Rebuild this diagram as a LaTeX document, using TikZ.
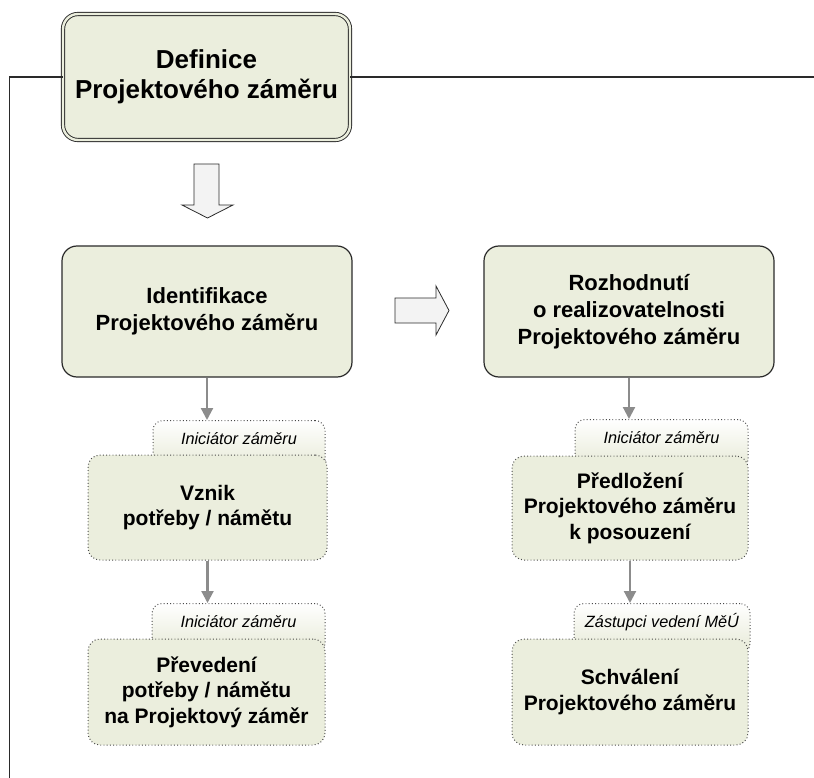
\documentclass[tikz,border=0pt]{standalone}
\usepackage{fontspec}
\setmainfont{Liberation Sans}
\usetikzlibrary{arrows.meta}
\definecolor{boxgreen}{HTML}{EBEEDD}
\definecolor{labgreen}{HTML}{E6E9D5}
\definecolor{linedark}{HTML}{2A2A2A}
\definecolor{dotcol}{HTML}{4A4A4A}
\definecolor{arrgray}{HTML}{8C8C8C}
\definecolor{hollowfill}{HTML}{F3F3F3}
\tikzset{
  x=1pt, y=-1pt,
  topbox/.style={draw=linedark, line width=0.9pt, double=boxgreen, double distance=2.4pt,
    fill=boxgreen, rounded corners=15pt, inner sep=0pt, align=center,
    font=\bfseries\fontsize{26}{30.5}\selectfont},
  mainbox/.style={draw=linedark, line width=1.2pt, fill=boxgreen, rounded corners=15pt,
    inner sep=0pt, align=center, minimum width=290pt, minimum height=131pt,
    font=\bfseries\fontsize{22}{26.8}\selectfont},
  dotbox/.style={draw=dotcol, line width=1pt, dash pattern=on 0.9pt off 2.3pt,
    fill=boxgreen, rounded corners=12pt, inner sep=0pt, align=center,
    font=\bfseries\fontsize{21}{25.5}\selectfont},
  labbox/.style={draw=dotcol, line width=1pt, dash pattern=on 0.9pt off 2.3pt,
    top color=white, bottom color=labgreen, rounded corners=10pt, inner xsep=0pt,
    inner ysep=0pt, text height=24pt, text depth=26pt, anchor=north,
    font=\itshape\fontsize{16.3}{19}\selectfont},
  hollow/.style={draw=linedark, line width=0.8pt, fill=hollowfill, line join=miter},
  grayarrow/.style={draw=arrgray, line width=2.2pt, -{Triangle[width=12pt,length=12pt]}},
  frameline/.style={draw=linedark, line width=1.3pt}
}
\begin{document}
\begin{tikzpicture}
\useasboundingbox (0,0) rectangle (814,778);
% top box and frame
\node[topbox, minimum width=287pt, minimum height=126pt] (top) at (206.5,77)
  {Definice\\Projektového záměru};
\coordinate (fbl) at (9.5,778);
\coordinate (fr) at (814,77);
\draw[frameline] (top.west) -| (fbl);
\draw[frameline] (top.east) -- (fr);
% hollow arrows
\draw[hollow] (194,164) -- (219,164) -- (219,205) -- (233,205) -- (207.5,218)
  -- (182,205) -- (194,205) -- cycle;
\draw[hollow] (395,298) -- (436,298) -- (436,286) -- (449,310.5) -- (436,335)
  -- (436,323) -- (395,323) -- cycle;
% main boxes
\node[mainbox] (ident) at (207,311.5) {Identifikace\\Projektového záměru};
\node[mainbox] (rozh) at (629,311.5) {Rozhodnutí\\o realizovatelnosti\\Projektového záměru};
% left column
\node[labbox, minimum width=172pt] (lab1) at (239,420) {Iniciátor záměru};
\node[dotbox, minimum width=239pt, minimum height=105pt] (vznik) at (207.5,507.5)
  {Vznik\\potřeby / námětu};
\node[labbox, minimum width=173pt] (lab2) at (238.5,603) {Iniciátor záměru};
\node[dotbox, minimum width=237pt, minimum height=106pt] (prev) at (206.5,692)
  {Převedení\\potřeby / námětu\\na Projektový záměr};
% right column
\node[labbox, minimum width=173pt] (lab3) at (661.5,419) {Iniciátor záměru};
\node[dotbox, minimum width=236pt, minimum height=104pt] (pred) at (630,508)
  {Předložení\\Projektového záměru\\k posouzení};
\node[labbox, minimum width=176pt] (lab4) at (662,603) {Zástupci vedení MěÚ};
\node[dotbox, minimum width=236pt, minimum height=106pt] (schv) at (630,692)
  {Schválení\\Projektového záměru};
% gray arrows
\draw[grayarrow] (ident.south) -- (ident.south |- lab1.north);
\draw[grayarrow] (vznik.south) -- (vznik.south |- lab2.north);
\draw[grayarrow] (rozh.south) -- (rozh.south |- lab3.north);
\draw[grayarrow] (pred.south) -- (pred.south |- lab4.north);
\end{tikzpicture}
\end{document}
